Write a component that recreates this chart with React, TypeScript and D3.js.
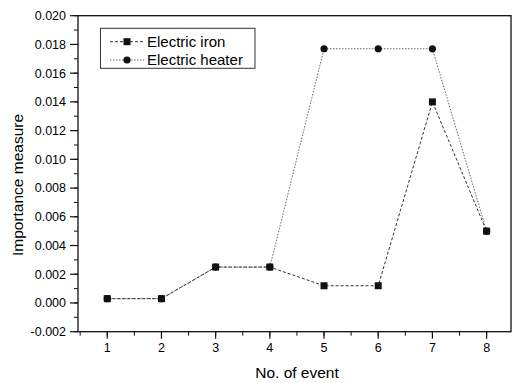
import * as d3 from 'd3'
import { useEffect, useRef } from 'react'

const events = [1, 2, 3, 4, 5, 6, 7, 8]
const ironValues = [0.0003, 0.0003, 0.0025, 0.0025, 0.0012, 0.0012, 0.014, 0.005]
const heaterValues = [0.0003, 0.0003, 0.0025, 0.0025, 0.0177, 0.0177, 0.0177, 0.005]
const yTicks = [-0.002, 0, 0.002, 0.004, 0.006, 0.008, 0.01, 0.012, 0.014, 0.016, 0.018, 0.02]
const seriesNames = ['Electric iron', 'Electric heater']

const App = () => {
	const svgRef = useRef<SVGSVGElement>(null)

	const width = 512
	const height = 383
	const marginTop = 15.7
	const marginRight = 1
	const marginBottom = 51.3
	const marginLeft = 78
	const font = '"Liberation Sans", Arial, sans-serif'

	useEffect(() => {
		d3.select(svgRef.current).selectAll('*').remove()
		const svg = d3.select(svgRef.current).attr('width', width).attr('height', height)

		// scales
		const x = d3.scaleLinear().domain([0.46, 8.45]).range([marginLeft, width - marginRight])
		const y = d3.scaleLinear().domain([-0.002, 0.02]).range([height - marginBottom, marginTop])

		const x0 = marginLeft
		const x1 = width - marginRight
		const y0 = height - marginBottom
		const y1 = marginTop

		// frame
		svg.append('rect')
			.attr('x', x0).attr('y', y1)
			.attr('width', x1 - x0).attr('height', y0 - y1)
			.attr('fill', 'none').attr('stroke', '#111').attr('stroke-width', 1.3)

		// y axis ticks
		const yMinor = d3.range(-0.002, 0.0205, 0.001)
		svg.append('g').selectAll('line').data(yMinor).join('line')
			.attr('x1', x0).attr('x2', x0 - 4)
			.attr('y1', (d) => y(d)).attr('y2', (d) => y(d))
			.attr('stroke', '#111').attr('stroke-width', 1)
		svg.append('g').selectAll('line').data(yTicks).join('line')
			.attr('x1', x0).attr('x2', x0 - 8)
			.attr('y1', (d) => y(d)).attr('y2', (d) => y(d))
			.attr('stroke', '#111').attr('stroke-width', 1.2)
		svg.append('g').selectAll('text').data(yTicks).join('text')
			.attr('x', x0 - 12).attr('y', (d) => y(d))
			.attr('dy', '0.35em')
			.attr('text-anchor', 'end')
			.attr('font-family', font).attr('font-size', 12.5)
			.text((d) => d3.format('.3f')(d).replace('−', '-'))

		// x axis ticks
		const xMinor = d3.range(0.5, 8.5, 0.5)
		svg.append('g').selectAll('line').data(xMinor).join('line')
			.attr('x1', (d) => x(d)).attr('x2', (d) => x(d))
			.attr('y1', y0).attr('y2', y0 + 4)
			.attr('stroke', '#111').attr('stroke-width', 1)
		svg.append('g').selectAll('line').data(events).join('line')
			.attr('x1', (d) => x(d)).attr('x2', (d) => x(d))
			.attr('y1', y0).attr('y2', y0 + 7)
			.attr('stroke', '#111').attr('stroke-width', 1.2)
		svg.append('g').selectAll('text').data(events).join('text')
			.attr('x', (d) => x(d)).attr('y', y0 + 16)
			.attr('dy', '0.35em')
			.attr('text-anchor', 'middle')
			.attr('font-family', font).attr('font-size', 12.5)
			.text((d) => d)

		// axis titles
		svg.append('text')
			.attr('x', 297).attr('y', 373)
			.attr('dy', '0.35em')
			.attr('text-anchor', 'middle')
			.attr('font-family', font).attr('font-size', 15.5)
			.text('No. of event')
		svg.append('text')
			.attr('transform', `translate(18,185) rotate(-90)`)
			.attr('dy', '0.35em')
			.attr('text-anchor', 'middle')
			.attr('font-family', font).attr('font-size', 15.5)
			.text('Importance measure')

		// lines
		const line = d3.line<number>().x((_, i) => x(events[i])).y((d) => y(d))
		svg.append('path').attr('d', line(heaterValues))
			.attr('fill', 'none').attr('stroke', '#666').attr('stroke-width', 1)
			.attr('stroke-dasharray', '1.5,1.5')
		svg.append('path').attr('d', line(ironValues))
			.attr('fill', 'none').attr('stroke', '#333').attr('stroke-width', 1)
			.attr('stroke-dasharray', '3,2')

		// markers
		svg.append('g').selectAll('rect').data(ironValues).join('rect')
			.attr('x', (_, i) => x(events[i]) - 3.5).attr('y', (d) => y(d) - 3.5)
			.attr('width', 7).attr('height', 7).attr('fill', '#111')
		svg.append('g').selectAll('circle').data(heaterValues).join('circle')
			.attr('cx', (_, i) => x(events[i])).attr('cy', (d) => y(d))
			.attr('r', 3.6).attr('fill', '#111')

		// legend
		const lg = svg.append('g')
		lg.append('rect')
			.attr('x', 100.5).attr('y', 28.3).attr('width', 154.5).attr('height', 40)
			.attr('fill', 'white').attr('stroke', '#333').attr('stroke-width', 1)
		seriesNames.forEach((name, i) => {
			const ly = 41.7 + i * 18.3
			lg.append('line')
				.attr('x1', 110).attr('x2', 144).attr('y1', ly).attr('y2', ly)
				.attr('stroke', i === 0 ? '#333' : '#666').attr('stroke-width', 1)
				.attr('stroke-dasharray', i === 0 ? '3,2' : '1.5,1.5')
			if (i === 0) {
				lg.append('rect').attr('x', 127 - 3.5).attr('y', ly - 3.5)
					.attr('width', 7).attr('height', 7).attr('fill', '#111')
			} else {
				lg.append('circle').attr('cx', 127).attr('cy', ly).attr('r', 3.6).attr('fill', '#111')
			}
			lg.append('text')
				.attr('x', 147).attr('y', ly)
				.attr('dy', '0.35em')
				.attr('font-family', font).attr('font-size', 15)
				.text(name)
		})
	}, [])

	return (
		<svg ref={svgRef} style={{ position: 'absolute', left: 0, top: 0 }}></svg>
	)
}

export default App
